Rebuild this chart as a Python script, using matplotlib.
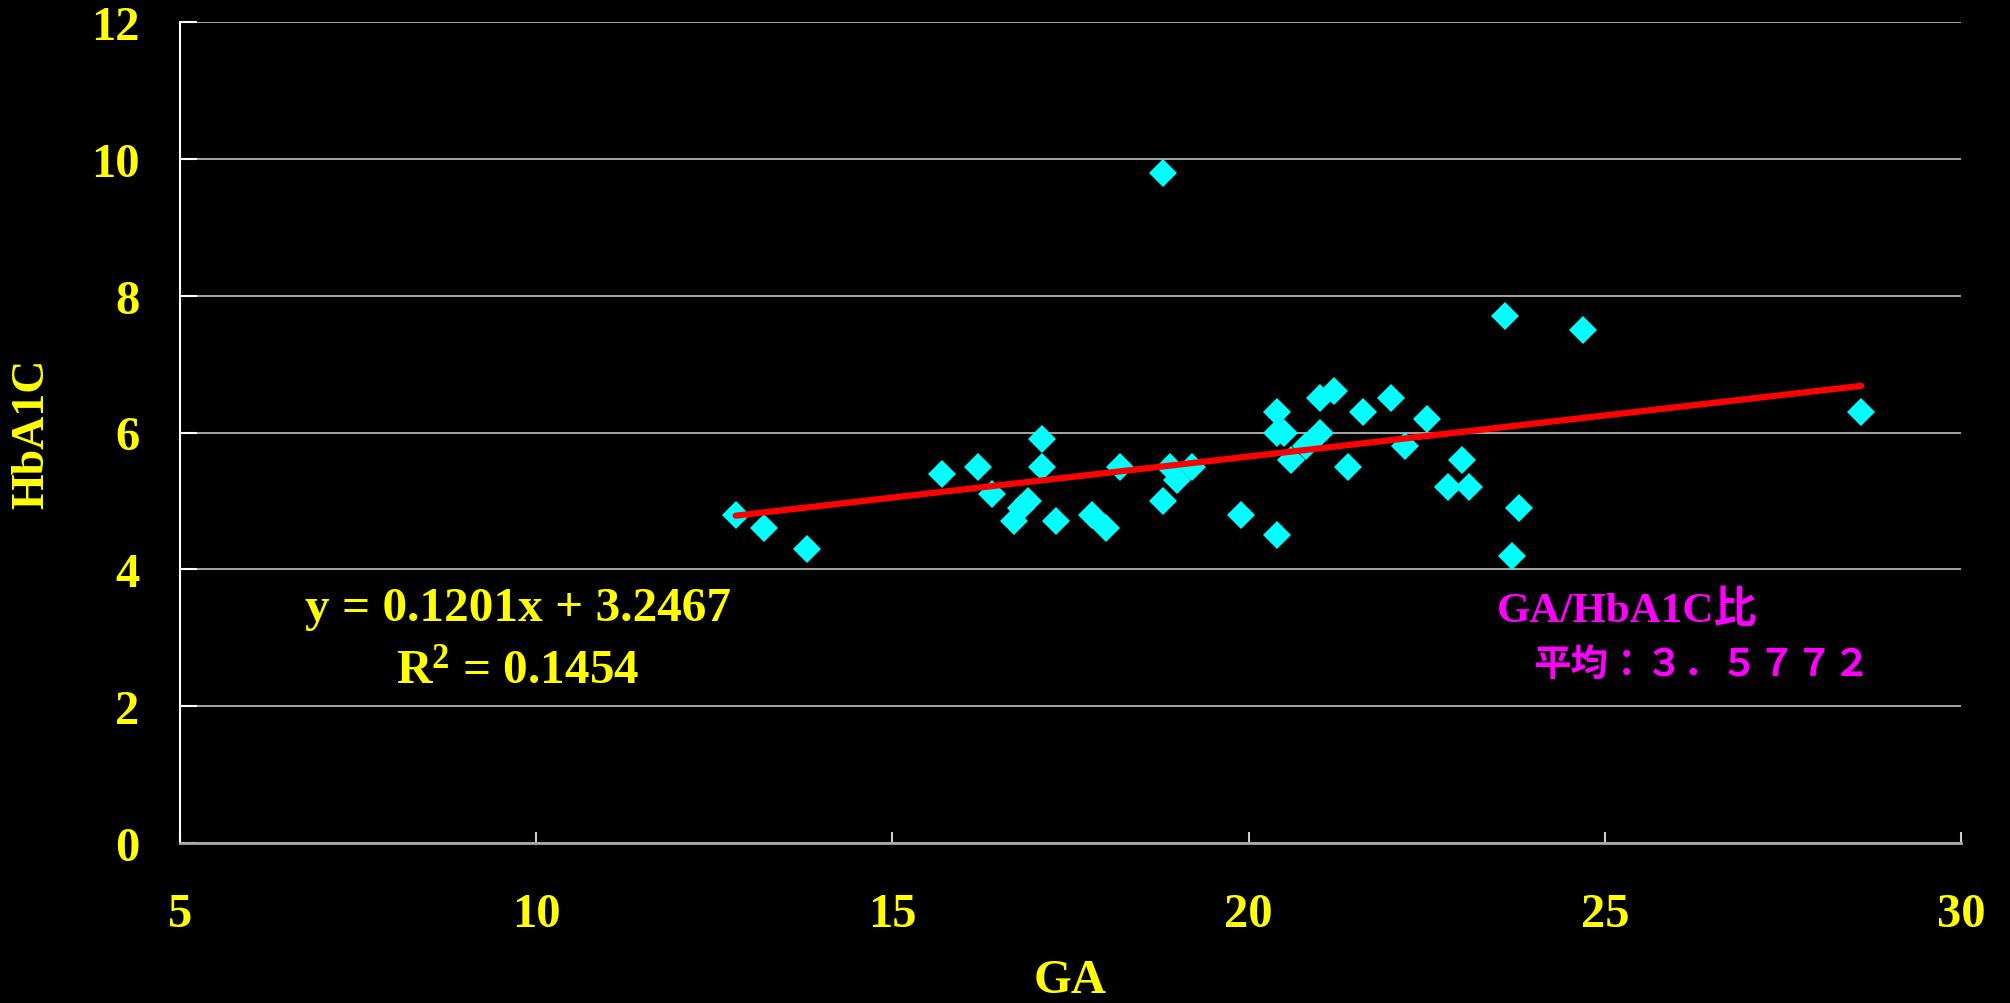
import matplotlib
matplotlib.use("Agg")
import matplotlib.pyplot as plt

# GA vs HbA1C readings
ga = [12.8, 13.2, 13.8, 15.7, 16.2, 16.4, 16.7, 16.8, 16.9, 17.1, 17.1,
      17.3, 17.8, 18.0, 18.2, 18.8, 18.8, 18.9, 19.0, 19.2, 19.9, 20.4,
      20.4, 20.4, 20.5, 20.6, 20.8, 21.0, 21.0, 21.2, 21.4, 21.6, 22.0,
      22.2, 22.5, 22.8, 23.0, 23.1, 23.6, 23.7, 23.8, 24.7, 28.6]
hba1c = [4.8, 4.6, 4.3, 5.4, 5.5, 5.1, 4.7, 4.9, 5.0, 5.9, 5.5,
         4.7, 4.8, 4.6, 5.5, 9.8, 5.0, 5.5, 5.3, 5.5, 4.8, 6.3,
         6.0, 4.5, 6.0, 5.6, 5.8, 6.5, 6.0, 6.6, 5.5, 6.3, 6.5,
         5.8, 6.2, 5.2, 5.6, 5.2, 7.7, 4.2, 4.9, 7.5, 6.3]

# linear trendline as reported on the chart
SLOPE = 0.1201
INTERCEPT = 3.2467
R2 = 0.1454
RATIO_MEAN = "３．５７７２"

x_ticks = [5, 10, 15, 20, 25, 30]
y_ticks = [0, 2, 4, 6, 8, 10, 12]

YELLOW = "#ffff00"
CYAN = "#00ffff"
MAGENTA = "#ff00ff"

plt.rcParams['font.family'] = ['Liberation Serif', 'Noto Sans CJK JP']
plt.rcParams['font.weight'] = 'bold'
plt.rcParams['mathtext.default'] = 'regular'

fig = plt.figure(figsize=(20.1, 10.04), dpi=100, facecolor="black")
ax = fig.add_axes([180 / 2010, 1 - 844 / 1004, 1781 / 2010, 821 / 1004])
ax.set_facecolor("black")

ax.set_xlim(5, 30)
ax.set_ylim(0, 12)
ax.set_xticks(x_ticks)
ax.set_yticks(y_ticks)

ax.yaxis.grid(True, color="#b4b4b4", linewidth=1.3)
ax.set_axisbelow(True)

for side in ["top", "right"]:
    ax.spines[side].set_visible(False)
ax.spines["left"].set_color("white")
ax.spines["left"].set_linewidth(1.5)
ax.spines["bottom"].set_color("#a8a8a8")
ax.spines["bottom"].set_linewidth(2)

ax.tick_params(axis="x", direction="in", length=8, width=1.5, color="#cccccc",
               pad=35, labelsize=35, labelcolor=YELLOW)
ax.tick_params(axis="y", direction="in", length=12, width=1.5, color="white",
               pad=29, labelsize=35, labelcolor=YELLOW)

# scatter points
ax.plot(ga, hba1c, linestyle="none", marker="D", markersize=14.5,
        color=CYAN, markeredgewidth=0)

# trendline across data range
x0, x1 = min(ga), max(ga)
ax.plot([x0, x1], [SLOPE * x0 + INTERCEPT, SLOPE * x1 + INTERCEPT],
        color="#ff0000", linewidth=4.5, solid_capstyle="round")

ax.set_xlabel("GA", fontsize=35, color=YELLOW, fontweight="bold")
ax.xaxis.set_label_coords(0.5, -0.167)
ax.xaxis.label.set_va("center")
ax.set_ylabel("HbA1C", fontsize=33, color=YELLOW, fontweight="bold")
ax.yaxis.set_label_coords(-0.083, 0.5)
ax.yaxis.label.set_va("center")

ax.text(9.74, 3.43, f"y = {SLOPE:.4f}x + {INTERCEPT:.4f}", fontsize=35.5,
        color=YELLOW, ha="center", va="center", fontweight="bold")
ax.text(9.74, 2.53, "R$^{2}$" + f" = {R2:.4f}", fontsize=35.5,
        color=YELLOW, ha="center", va="center", fontweight="bold")

ax.text(23.48, 3.41, "GA/HbA1C比", fontsize=31, color=MAGENTA,
        ha="left", va="center", fontweight="bold")
ax.text(24.0, 2.63, "平均：" + RATIO_MEAN, fontsize=27, color=MAGENTA,
        ha="left", va="center", fontweight="bold",
        family=['Noto Sans CJK JP', 'DejaVu Sans'])

fig.savefig("out.png", dpi=100, facecolor="black")
